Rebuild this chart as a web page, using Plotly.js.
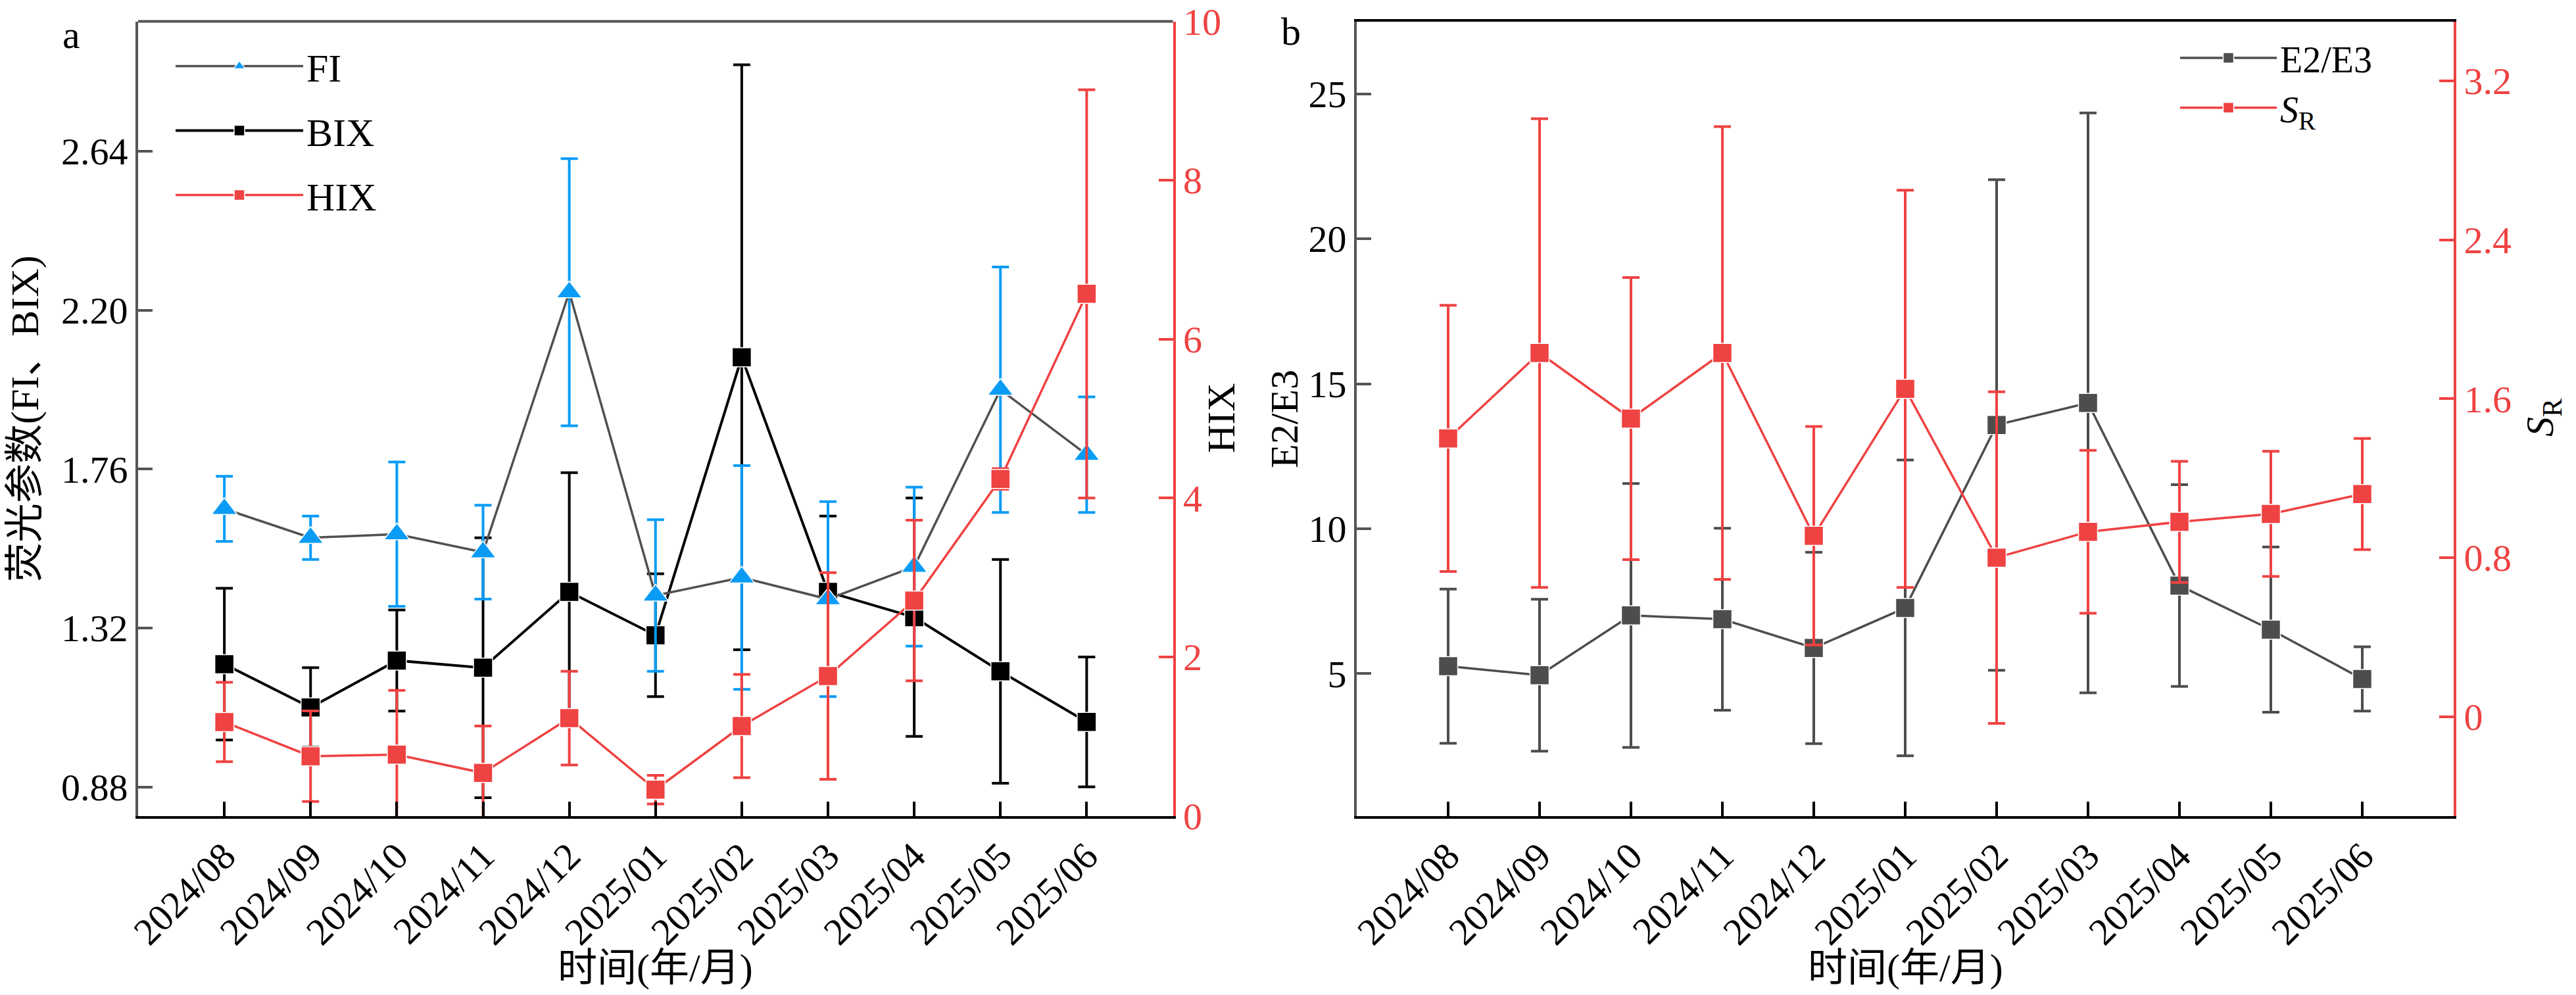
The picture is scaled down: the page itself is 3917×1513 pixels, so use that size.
<!DOCTYPE html>
<html>
<head>
<meta charset="utf-8">
<script src="https://cdn.plot.ly/plotly-3.0.1.min.js"></script>
<style>
  html, body { margin: 0; padding: 0; background: #ffffff; }
  #chart { width: 3917px; height: 1513px; }
</style>
</head>
<body>
<div id="chart"></div>
<script>
// ─── Data ────────────────────────────────────────────────────────
const months = ['2024/08', '2024/09', '2024/10', '2024/11', '2024/12', '2025/01',
                '2025/02', '2025/03', '2025/04', '2025/05', '2025/06'];

// Panel a — fluorescence indices
const fi     = [1.65, 1.57, 1.58, 1.53, 2.25, 1.41, 1.46, 1.40, 1.49, 1.98, 1.80];
const fiErr  = [0.09, 0.06, 0.20, 0.13, 0.37, 0.21, 0.31, 0.27, 0.22, 0.34, 0.16];
const bix    = [1.22, 1.10, 1.23, 1.21, 1.42, 1.30, 2.07, 1.42, 1.35, 1.20, 1.06];
const bixErr = [0.21, 0.11, 0.14, 0.36, 0.33, 0.17, 0.81, 0.21, 0.33, 0.31, 0.18];
const hix    = [1.18, 0.75, 0.77, 0.54, 1.23, 0.33, 1.13, 1.76, 2.71, 4.24, 6.57];
const hixErr = [0.50, 0.57, 0.81, 0.59, 0.59, 0.18, 0.65, 1.30, 1.01, 0.13, 2.57];

// Panel b — absorbance indices
const e23    = [5.26, 4.95, 7.01, 6.88, 5.89, 7.27, 13.58, 14.34, 8.04, 6.52, 4.82];
const e23Err = [2.66, 2.62, 4.55, 3.14, 3.30, 5.10, 8.46, 10.0, 3.48, 2.85, 1.11];
const sr     = [1.40, 1.83, 1.50, 1.83, 0.91, 1.65, 0.80, 0.93, 0.98, 1.02, 1.12];
const srErr  = [0.67, 1.18, 0.71, 1.14, 0.55, 1.00, 0.835, 0.41, 0.305, 0.315, 0.28];

// Axis ticks
const leftTicksA  = [0.88, 1.32, 1.76, 2.20, 2.64];
const rightTicksA = [0, 2, 4, 6, 8, 10];
const leftTicksB  = [5, 10, 15, 20, 25];
const rightTicksB = [0, 0.8, 1.6, 2.4, 3.2];
const rightTextB  = ['0', '0.8', '1.6', '2.4', '3.2'];

// ─── Style ───────────────────────────────────────────────────────
const COLORS = {
    fi: '#0a9cf5',
    fiLine: '#505050',
    black: '#000000',
    gray: '#4d4d4d',
    red: '#ef4242',
    axisGray: '#555555'
};
const FONT = '"Liberation Serif", "Times New Roman", "Noto Sans CJK SC", serif';
const W = 3917, H = 1513;

const domA = [210 / W, 1783.5 / W];
const domB = [2063 / W, 3731 / W];
const domY = [1 - 1240.5 / H, 1 - 32.5 / H];

function series(x, y, err, opts) {
    return {
        x: x, y: y,
        type: 'scatter',
        mode: 'lines+markers',
        name: opts.name,
        xaxis: opts.xaxis, yaxis: opts.yaxis,
        legend: opts.legend,
        legendgroup: opts.name,
        legendrank: opts.rank,
        line: { color: opts.lineColor, width: opts.lineWidth || 3.5 },
        marker: { symbol: opts.symbol, size: opts.size, color: opts.color,
                  line: { width: 1.5, color: '#ffffff' } },
        error_y: { type: 'data', array: err, visible: true,
                   color: opts.color, thickness: 4, width: 13 },
        hoverinfo: 'x+y'
    };
}

// BIX first so FI sits on top of it (HIX lives on the overlay axis)
const traces = [
    series(months, bix, bixErr, { name: 'BIX', xaxis: 'x', yaxis: 'y', legend: 'legend', rank: 2,
        lineColor: COLORS.black, lineWidth: 4, symbol: 'square', size: 29, color: COLORS.black }),
    series(months, fi, fiErr, { name: 'FI', xaxis: 'x', yaxis: 'y', legend: 'legend', rank: 1,
        lineColor: COLORS.fiLine, symbol: 'triangle-up', size: 34, color: COLORS.fi }),
    series(months, hix, hixErr, { name: 'HIX', xaxis: 'x', yaxis: 'y2', legend: 'legend', rank: 3,
        lineColor: COLORS.red, symbol: 'square', size: 29, color: COLORS.red }),
    series(months, e23, e23Err, { name: 'E2/E3', xaxis: 'x2', yaxis: 'y3', legend: 'legend2', rank: 1,
        lineColor: COLORS.gray, symbol: 'square', size: 29, color: COLORS.gray }),
    series(months, sr, srErr, { name: '<i>S</i><sub>R</sub>', xaxis: 'x2', yaxis: 'y4', legend: 'legend2', rank: 2,
        lineColor: COLORS.red, symbol: 'square', size: 29, color: COLORS.red })
];

function xAxis(domain, anchor, mirror) {
    return {
        domain: domain, anchor: anchor,
        type: 'category', categoryarray: months, range: [-1, 11],
        showline: true, linecolor: COLORS.black, linewidth: 4, mirror: mirror,
        ticks: 'inside', ticklen: 22, tickwidth: 4, tickcolor: COLORS.black,
        tickangle: -45,
        tickfont: { family: FONT, size: 58, color: COLORS.black },
        showgrid: false, zeroline: false
    };
}

function yAxis(color, lineColor, extra) {
    return Object.assign({
        showline: true, linecolor: lineColor, linewidth: 4,
        ticks: 'inside', ticklen: 22, tickwidth: 4, tickcolor: lineColor,
        tickfont: { family: FONT, size: 58, color: color },
        showgrid: false, zeroline: false
    }, extra);
}

function label(text, x, y, angle, size) {
    return {
        text: text, xref: 'paper', yref: 'paper', x: x, y: y,
        xanchor: 'center', yanchor: 'middle', showarrow: false,
        textangle: angle || 0,
        font: { family: FONT, size: size || 60, color: COLORS.black }
    };
}

const layout = {
    width: W, height: H,
    margin: { l: 0, r: 0, t: 0, b: 0 },
    paper_bgcolor: '#ffffff', plot_bgcolor: 'rgba(0,0,0,0)',
    font: { family: FONT, color: COLORS.black },

    xaxis: xAxis(domA, 'y', false),
    xaxis2: xAxis(domB, 'y3', true),

    yaxis: yAxis(COLORS.black, COLORS.axisGray, {
        domain: domY, anchor: 'x', range: [0.8, 3.0],
        tickvals: leftTicksA, tickformat: '.2f'
    }),
    yaxis2: yAxis(COLORS.red, COLORS.red, {
        overlaying: 'y', side: 'right', anchor: 'x', range: [0, 10],
        tickvals: rightTicksA
    }),
    yaxis3: yAxis(COLORS.black, COLORS.axisGray, {
        domain: domY, anchor: 'x2', range: [0.1, 27.5],
        tickvals: leftTicksB
    }),
    yaxis4: yAxis(COLORS.red, COLORS.red, {
        overlaying: 'y3', side: 'right', anchor: 'x2', range: [-0.5, 3.5],
        tickvals: rightTicksB, ticktext: rightTextB
    }),

    legend: {
        x: 262 / W, y: 1 - 55 / H, xanchor: 'left', yanchor: 'top',
        bgcolor: 'rgba(0,0,0,0)', borderwidth: 0,
        font: { family: FONT, size: 60, color: COLORS.black },
        itemwidth: 194, tracegroupgap: 17
    },
    legend2: {
        x: 3310 / W, y: 1 - 45 / H, xanchor: 'left', yanchor: 'top',
        bgcolor: 'rgba(0,0,0,0)', borderwidth: 0,
        font: { family: FONT, size: 56, color: COLORS.black },
        itemwidth: 147, tracegroupgap: 0
    },

    // gray top frame of panel a
    shapes: [{
        type: 'line', xref: 'x domain', yref: 'y domain',
        x0: 0, x1: 1, y0: 1, y1: 1,
        line: { color: COLORS.axisGray, width: 4 }
    }],

    annotations: [
        label('a', 108 / W, 1 - 53 / H),
        label('b', 1963 / W, 1 - 48 / H),
        label('荧光参数(FI、BIX)', 38 / W, 1 - 637 / H, -90),
        label('HIX', 1857 / W, 1 - 636 / H, -90),
        label('时间(年/月)', 996.7 / W, 1 - 1472 / H),
        label('E2/E3', 1953 / W, 1 - 637 / H, -90),
        label('<i>S</i><sub>R</sub>', 3867 / W, 1 - 635 / H, -90),
        label('时间(年/月)', 2897 / W, 1 - 1472 / H)
    ]
};

Plotly.newPlot('chart', traces, layout, { displayModeBar: false, staticPlot: true });
</script>
</body>
</html>
